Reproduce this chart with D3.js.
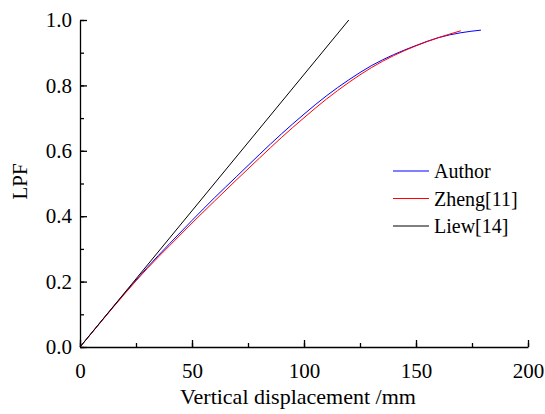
<!DOCTYPE html>
<html>
<head>
<meta charset="utf-8">
<script src="https://cdn.jsdelivr.net/npm/d3@7"></script>
<style>
  body { margin: 0; background: #fff; }
</style>
</head>
<body>
<svg id="chart"></svg>
<script>
const width = 545, height = 414;
const margin = { top: 20, right: 17, bottom: 67, left: 80 };
const serif = '"Liberation Serif", "Times New Roman", serif';

// Series data
const authorX = [0, 10, 20, 30, 40, 50, 60, 70, 80, 90, 100, 110, 120, 130, 140, 150, 160, 170, 179];
const authorY = [0, 0.083, 0.165, 0.243, 0.316, 0.387, 0.456, 0.522, 0.588, 0.652, 0.712, 0.768, 0.817, 0.860, 0.894, 0.922, 0.946, 0.961, 0.969];
const zhengX = [0, 10, 20, 30, 40, 50, 60, 70, 80, 90, 100, 110, 120, 130, 140, 150, 160, 170];
const zhengY = [0, 0.082, 0.163, 0.240, 0.310, 0.379, 0.446, 0.512, 0.577, 0.641, 0.701, 0.758, 0.809, 0.854, 0.891, 0.921, 0.946, 0.967];
const liewX = [0, 120];
const liewY = [0, 1.0];

const xTicks = [0, 50, 100, 150, 200];
const yTicks = [0, 0.2, 0.4, 0.6, 0.8, 1.0];

const series = [
  { name: 'Author', xs: authorX, ys: authorY, color: '#0000ff' },
  { name: 'Zheng[11]', xs: zhengX, ys: zhengY, color: '#ff0000' },
  { name: 'Liew[14]', xs: liewX, ys: liewY, color: '#000000' }
];

const svg = d3.select('#chart')
  .attr('width', width).attr('height', height)
  .attr('font-family', serif);

const x = d3.scaleLinear().domain([0, 200]).range([margin.left, width - margin.right]);
const y = d3.scaleLinear().domain([0, 1]).range([height - margin.bottom, margin.top]);

const line = d3.line()
  .x(d => x(d[0]))
  .y(d => y(d[1]))
  .curve(d3.curveMonotoneX);

// Lines
series.forEach(s => {
  svg.append('path')
    .datum(d3.zip(s.xs, s.ys))
    .attr('fill', 'none')
    .attr('stroke', s.color)
    .attr('stroke-width', 1)
    .attr('d', line);
});

// Axes (ticks point inward)
const fmt = d3.format('.1f');
const xMinor = d3.range(0, 201, 25);
const yMinor = d3.range(0, 1.001, 0.1);

svg.append('g').attr('transform', `translate(0,${y(0)})`)
  .call(d3.axisBottom(x).tickValues(xMinor).tickSize(-4).tickFormat(''))
  .call(g => g.select('.domain').remove());
svg.append('g').attr('transform', `translate(0,${y(0)})`)
  .call(d3.axisBottom(x).tickValues(xTicks).tickSizeInner(-7).tickSizeOuter(0).tickPadding(12))
  .attr('font-family', serif)
  .attr('font-size', 21)
  .call(g => g.selectAll('text').attr('dy', '0.9em').attr('fill', '#000'));

svg.append('g').attr('transform', `translate(${x(0)},0)`)
  .call(d3.axisLeft(y).tickValues(yMinor).tickSize(-4).tickFormat(''))
  .call(g => g.select('.domain').remove());
svg.append('g').attr('transform', `translate(${x(0)},0)`)
  .call(d3.axisLeft(y).tickValues(yTicks).tickSizeInner(-7).tickSizeOuter(0).tickPadding(8).tickFormat(fmt))
  .attr('font-family', serif)
  .attr('font-size', 21)
  .call(g => g.selectAll('text').attr('fill', '#000'));

svg.selectAll('.domain, .tick line').attr('stroke', '#000').attr('stroke-width', 1.3);

// Axis titles
svg.append('text')
  .attr('x', (x(0) + x(200)) / 2 - 6)
  .attr('y', 404)
  .attr('text-anchor', 'middle')
  .attr('font-size', 22)
  .text('Vertical displacement /mm');

svg.append('text')
  .attr('transform', `translate(27,${(y(0) + y(1)) / 2 - 2}) rotate(-90)`)
  .attr('text-anchor', 'middle')
  .attr('font-size', 21)
  .text('LPF');

// Legend
const legend = svg.append('g').attr('transform', 'translate(393,171)');
series.forEach((s, i) => {
  const row = legend.append('g').attr('transform', `translate(0,${i * 27.5})`);
  row.append('line')
    .attr('x1', 0).attr('x2', 36)
    .attr('stroke', s.color).attr('stroke-width', 1);
  row.append('text')
    .attr('x', 41)
    .attr('dy', '0.35em')
    .attr('font-size', 20)
    .text(s.name);
});
</script>
</body>
</html>
